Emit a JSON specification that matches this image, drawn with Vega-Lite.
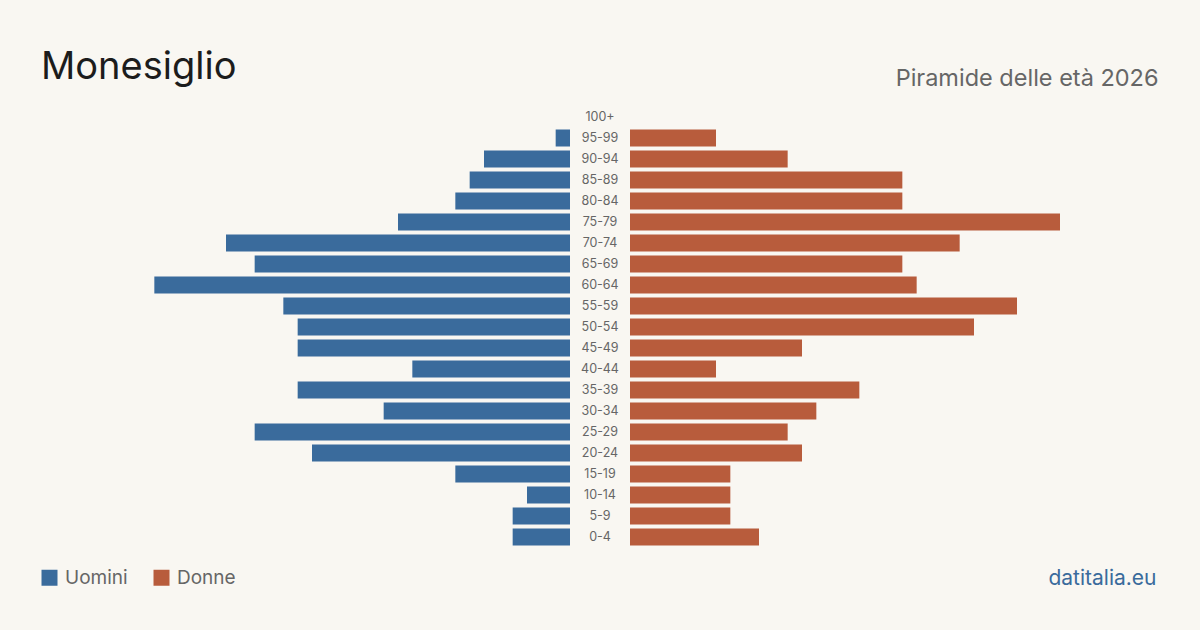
{
  "$schema": "https://vega.github.io/schema/vega-lite/v6.json",
  "width": 1200,
  "height": 630,
  "autosize": {"type": "fit", "contains": "padding"},
  "padding": 0,
  "background": "#f9f7f2",
  "title": {
    "text": "Monesiglio",
    "orient": "top",
    "anchor": "start",
    "frame": "group",
    "offset": -117,
    "dx": 41,
    "baseline": "alphabetic",
    "font": "Inter",
    "fontSize": 38,
    "fontWeight": 400,
    "color": "#1c1c1c"
  },
  "data": {
    "values": [
      {"eta": "100+", "sesso": "Uomini", "n": 0},
      {"eta": "95-99", "sesso": "Uomini", "n": 1},
      {"eta": "90-94", "sesso": "Uomini", "n": 6},
      {"eta": "85-89", "sesso": "Uomini", "n": 7},
      {"eta": "80-84", "sesso": "Uomini", "n": 8},
      {"eta": "75-79", "sesso": "Uomini", "n": 12},
      {"eta": "70-74", "sesso": "Uomini", "n": 24},
      {"eta": "65-69", "sesso": "Uomini", "n": 22},
      {"eta": "60-64", "sesso": "Uomini", "n": 29},
      {"eta": "55-59", "sesso": "Uomini", "n": 20},
      {"eta": "50-54", "sesso": "Uomini", "n": 19},
      {"eta": "45-49", "sesso": "Uomini", "n": 19},
      {"eta": "40-44", "sesso": "Uomini", "n": 11},
      {"eta": "35-39", "sesso": "Uomini", "n": 19},
      {"eta": "30-34", "sesso": "Uomini", "n": 13},
      {"eta": "25-29", "sesso": "Uomini", "n": 22},
      {"eta": "20-24", "sesso": "Uomini", "n": 18},
      {"eta": "15-19", "sesso": "Uomini", "n": 8},
      {"eta": "10-14", "sesso": "Uomini", "n": 3},
      {"eta": "5-9", "sesso": "Uomini", "n": 4},
      {"eta": "0-4", "sesso": "Uomini", "n": 4},
      {"eta": "100+", "sesso": "Donne", "n": 0},
      {"eta": "95-99", "sesso": "Donne", "n": 6},
      {"eta": "90-94", "sesso": "Donne", "n": 11},
      {"eta": "85-89", "sesso": "Donne", "n": 19},
      {"eta": "80-84", "sesso": "Donne", "n": 19},
      {"eta": "75-79", "sesso": "Donne", "n": 30},
      {"eta": "70-74", "sesso": "Donne", "n": 23},
      {"eta": "65-69", "sesso": "Donne", "n": 19},
      {"eta": "60-64", "sesso": "Donne", "n": 20},
      {"eta": "55-59", "sesso": "Donne", "n": 27},
      {"eta": "50-54", "sesso": "Donne", "n": 24},
      {"eta": "45-49", "sesso": "Donne", "n": 12},
      {"eta": "40-44", "sesso": "Donne", "n": 6},
      {"eta": "35-39", "sesso": "Donne", "n": 16},
      {"eta": "30-34", "sesso": "Donne", "n": 13},
      {"eta": "25-29", "sesso": "Donne", "n": 11},
      {"eta": "20-24", "sesso": "Donne", "n": 12},
      {"eta": "15-19", "sesso": "Donne", "n": 7},
      {"eta": "10-14", "sesso": "Donne", "n": 7},
      {"eta": "5-9", "sesso": "Donne", "n": 7},
      {"eta": "0-4", "sesso": "Donne", "n": 9}
    ]
  },
  "encoding": {
    "y": {
      "field": "eta",
      "type": "nominal",
      "scale": {
        "domain": ["100+", "95-99", "90-94", "85-89", "80-84", "75-79", "70-74", "65-69", "60-64", "55-59", "50-54", "45-49", "40-44", "35-39", "30-34", "25-29", "20-24", "15-19", "10-14", "5-9", "0-4"],
        "range": [106.5, 547.5],
        "paddingInner": 0.19,
        "paddingOuter": 0.095
      },
      "axis": null
    }
  },
  "layer": [
    {
      "transform": [{"filter": "datum.sesso === 'Uomini'"}],
      "mark": {"type": "bar"},
      "encoding": {
        "x": {
          "field": "n",
          "type": "quantitative",
          "scale": {"domain": [0, 30], "range": [570, 140], "nice": false, "zero": true},
          "axis": {
            "orient": "bottom",
            "domain": false,
            "ticks": false,
            "labels": false,
            "grid": false,
            "title": "datitalia.eu",
            "titleX": 1156,
            "titleY": -46,
            "titleAlign": "right",
            "titleBaseline": "alphabetic",
            "titleFont": "Inter",
            "titleFontSize": 21,
            "titleFontWeight": 400,
            "titleColor": "#3a6b9c"
          }
        },
        "color": {
          "field": "sesso",
          "type": "nominal",
          "scale": {"domain": ["Uomini", "Donne"], "range": ["#3a6b9c", "#b85c3c"]},
          "legend": {
            "orient": "none",
            "legendX": 40,
            "legendY": 568,
            "direction": "horizontal",
            "title": null,
            "symbolType": "square",
            "symbolSize": 256,
            "symbolStrokeWidth": 0,
            "labelFont": "Inter",
            "labelFontSize": 19,
            "labelColor": "#666666",
            "labelOffset": 6,
            "columnPadding": 24
          }
        }
      }
    },
    {
      "transform": [{"filter": "datum.sesso === 'Donne'"}],
      "mark": {"type": "bar"},
      "encoding": {
        "x": {
          "field": "n",
          "type": "quantitative",
          "scale": {"domain": [0, 30], "range": [630, 1060], "nice": false, "zero": true},
          "axis": {
            "orient": "top",
            "domain": false,
            "ticks": false,
            "labels": false,
            "grid": false,
            "title": "Piramide delle età 2026",
            "titleX": 1158,
            "titleY": 85,
            "titleAlign": "right",
            "titleBaseline": "alphabetic",
            "titleFont": "Inter",
            "titleFontSize": 23.5,
            "titleFontWeight": 400,
            "titleColor": "#666666"
          }
        },
        "color": {"field": "sesso", "type": "nominal"}
      }
    },
    {
      "transform": [{"filter": "datum.sesso === 'Uomini'"}],
      "mark": {"type": "text", "align": "center", "baseline": "middle", "font": "Inter", "fontSize": 12.5, "color": "#666666"},
      "encoding": {
        "text": {"field": "eta"}
      }
    }
  ],
  "resolve": {"scale": {"x": "independent"}, "axis": {"x": "independent"}},
  "config": {
    "view": {"stroke": null},
    "legend": {"padding": 0}
  }
}
